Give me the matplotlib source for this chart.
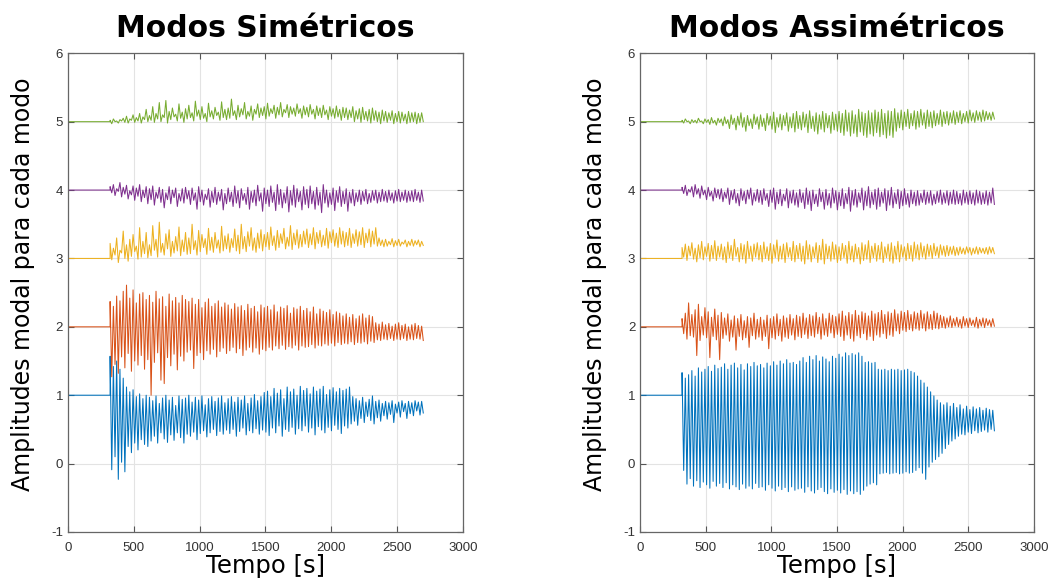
import numpy as np
import matplotlib
matplotlib.use("Agg")
import matplotlib.pyplot as plt

# modal amplitudes: upper peaks (hi) and lower troughs (lo) of each mode,
# one peak/trough pair every 25 s from t = 320 s to t = 2695 s
# (each row below covers 300 s)
t_start = 320
t_end = 2700
levels = [1, 2, 3, 4, 5]
colors = ["#0072BD", "#D95319", "#EDB120", "#7E2F8E", "#77AC30"]

# ---- symmetric modes ----
sim1_hi = [1.57, 1.42, 1.50, 1.38, 1.25, 1.12, 1.05, 1.08, 0.98, 1.02, 0.95, 1.00,
           0.97, 0.92, 0.99, 0.88, 0.96, 1.00, 0.93, 0.97, 0.85, 0.99, 0.94, 0.96,
           1.00, 0.90, 0.97, 0.93, 0.99, 0.86, 0.95, 0.98, 0.91, 0.96, 0.99, 0.89,
           0.95, 0.98, 0.90, 0.97, 0.93, 0.99, 0.88, 0.96, 1.01, 0.92, 0.98, 1.04,
           1.06, 0.98, 1.10, 1.03, 1.08, 0.95, 1.12, 1.05, 1.09, 1.00, 1.13, 1.07,
           1.10, 1.02, 1.12, 1.06, 1.09, 1.13, 1.01, 1.08, 1.11, 1.05, 1.10, 1.07,
           1.09, 1.12, 0.98, 0.95, 0.92, 0.97, 0.90, 0.94, 0.99, 0.91, 0.93, 0.88,
           0.91, 0.89, 0.92, 0.87, 0.90, 0.92, 0.88, 0.91, 0.89, 0.92, 0.90, 0.91]
sim1_lo = [-0.09, 0.10, -0.23, 0.02, -0.12, 0.25, 0.16, 0.30, 0.20, 0.35, 0.28, 0.25,
           0.33, 0.40, 0.30, 0.45, 0.36, 0.31, 0.42, 0.34, 0.45, 0.38, 0.30, 0.43,
           0.40, 0.46, 0.35, 0.44, 0.48, 0.39, 0.45, 0.50, 0.41, 0.47, 0.43, 0.49,
           0.44, 0.50, 0.40, 0.47, 0.52, 0.42, 0.48, 0.45, 0.51, 0.43, 0.49, 0.46,
           0.41, 0.52, 0.45, 0.55, 0.40, 0.50, 0.47, 0.53, 0.43, 0.51, 0.48, 0.55,
           0.46, 0.52, 0.42, 0.54, 0.49, 0.45, 0.53, 0.48, 0.56, 0.50, 0.44, 0.55,
           0.52, 0.58, 0.62, 0.56, 0.66, 0.60, 0.69, 0.63, 0.58, 0.67, 0.62, 0.70,
           0.65, 0.72, 0.60, 0.74, 0.68, 0.76, 0.66, 0.73, 0.70, 0.77, 0.71, 0.74]

sim2_hi = [2.37, 2.30, 2.45, 2.38, 2.52, 2.61, 2.42, 2.54, 2.35, 2.48, 2.50, 2.40,
           2.46, 2.36, 2.52, 2.41, 2.44, 2.30, 2.48, 2.38, 2.43, 2.35, 2.46, 2.40,
           2.37, 2.42, 2.33, 2.40, 2.28, 2.36, 2.41, 2.30, 2.34, 2.38, 2.29, 2.35,
           2.32, 2.26, 2.34, 2.29, 2.31, 2.24, 2.33, 2.27, 2.30, 2.22, 2.32, 2.28,
           2.30, 2.25, 2.32, 2.22, 2.29, 2.27, 2.31, 2.20, 2.28, 2.26, 2.30, 2.24,
           2.27, 2.22, 2.29, 2.19, 2.26, 2.23, 2.21, 2.25, 2.18, 2.22, 2.20, 2.16,
           2.19, 2.14, 2.18, 2.12, 2.16, 2.19, 2.13, 2.17, 2.15, 2.06, 2.04, 2.07,
           2.03, 2.05, 2.01, 2.04, 2.06, 2.02, 2.04, 2.00, 2.03, 2.05, 2.02, 2.01]
sim2_lo = [1.27, 1.45, 1.32, 1.56, 1.40, 1.61, 1.35, 1.50, 1.44, 1.58, 1.38, 1.52,
           1.00, 1.48, 1.62, 1.22, 1.17, 1.55, 1.43, 1.60, 1.37, 1.57, 1.50, 1.63,
           1.66, 1.39, 1.58, 1.62, 1.52, 1.65, 1.60, 1.67, 1.56, 1.64, 1.69, 1.61,
           1.65, 1.70, 1.62, 1.68, 1.58, 1.66, 1.70, 1.63, 1.69, 1.60, 1.67, 1.65,
           1.70, 1.66, 1.72, 1.68, 1.73, 1.67, 1.71, 1.69, 1.73, 1.66, 1.72, 1.70,
           1.71, 1.74, 1.69, 1.73, 1.72, 1.75, 1.73, 1.76, 1.72, 1.77, 1.74, 1.76,
           1.75, 1.78, 1.74, 1.77, 1.76, 1.78, 1.75, 1.79, 1.77, 1.81, 1.80, 1.82,
           1.81, 1.83, 1.80, 1.82, 1.81, 1.83, 1.80, 1.82, 1.81, 1.83, 1.82, 1.80]

sim3_hi = [3.22, 3.15, 3.30, 3.12, 3.40, 3.20, 3.28, 3.35, 3.18, 3.45, 3.25, 3.38,
           3.20, 3.48, 3.28, 3.53, 3.22, 3.36, 3.42, 3.25, 3.32, 3.46, 3.27, 3.38,
           3.30, 3.50, 3.26, 3.41, 3.35, 3.29, 3.44, 3.31, 3.38, 3.27, 3.47, 3.33,
           3.36, 3.29, 3.43, 3.34, 3.50, 3.32, 3.39, 3.45, 3.30, 3.37, 3.42, 3.35,
           3.38, 3.46, 3.33, 3.41, 3.36, 3.44, 3.31, 3.48, 3.37, 3.42, 3.35, 3.40,
           3.43, 3.36, 3.45, 3.38, 3.41, 3.34, 3.44, 3.39, 3.42, 3.37, 3.45, 3.40,
           3.38, 3.44, 3.36, 3.42, 3.39, 3.45, 3.37, 3.43, 3.40, 3.45, 3.30, 3.27,
           3.28, 3.25, 3.29, 3.26, 3.28, 3.24, 3.27, 3.25, 3.28, 3.26, 3.27, 3.25]
sim3_lo = [2.98, 3.05, 2.94, 3.08, 3.00, 2.96, 3.03, 3.10, 2.99, 3.02, 3.07, 3.01,
           3.04, 3.12, 3.02, 3.09, 3.05, 3.14, 3.03, 3.08, 3.11, 3.04, 3.10, 3.06,
           3.07, 3.13, 3.05, 3.10, 3.16, 3.06, 3.12, 3.09, 3.15, 3.08, 3.11, 3.14,
           3.09, 3.16, 3.11, 3.07, 3.14, 3.10, 3.18, 3.12, 3.09, 3.15, 3.11, 3.17,
           3.13, 3.19, 3.12, 3.16, 3.22, 3.14, 3.18, 3.13, 3.20, 3.15, 3.17, 3.21,
           3.16, 3.20, 3.14, 3.22, 3.17, 3.19, 3.15, 3.23, 3.18, 3.16, 3.21, 3.17,
           3.19, 3.16, 3.22, 3.18, 3.20, 3.16, 3.23, 3.17, 3.21, 3.18, 3.19, 3.17,
           3.18, 3.20, 3.17, 3.19, 3.18, 3.21, 3.17, 3.19, 3.18, 3.20, 3.17, 3.19]

sim4_hi = [4.05, 4.08, 4.02, 4.11, 4.04, 4.07, 3.99, 4.06, 4.03, 4.08, 4.00, 4.05,
           4.02, 4.06, 3.97, 4.04, 4.01, 3.96, 4.05, 4.00, 4.03, 3.95, 4.02, 4.04,
           3.99, 4.03, 3.96, 4.05, 4.00, 3.94, 4.02, 3.98, 4.04, 3.97, 4.01, 3.95,
           4.03, 3.97, 4.06, 3.99, 4.02, 3.95, 4.04, 3.98, 4.00, 4.07, 3.96, 4.03,
           4.00, 4.06, 3.97, 4.08, 4.01, 3.96, 4.05, 3.99, 4.07, 4.02, 3.98, 4.05,
           4.01, 4.06, 3.98, 4.04, 3.97, 4.08, 4.00, 3.96, 4.03, 3.99, 4.05, 3.98,
           4.02, 3.97, 4.01, 3.96, 4.00, 3.98, 4.01, 3.95, 3.99, 4.00, 3.97, 4.01,
           3.98, 4.00, 3.96, 3.99, 4.01, 3.97, 4.00, 3.98, 3.99, 4.01, 3.97, 4.00]
sim4_lo = [3.96, 3.92, 3.98, 3.90, 3.94, 3.87, 3.93, 3.85, 3.91, 3.83, 3.89, 3.80,
           3.86, 3.78, 3.88, 3.82, 3.74, 3.86, 3.80, 3.89, 3.76, 3.84, 3.81, 3.87,
           3.79, 3.85, 3.72, 3.83, 3.78, 3.86, 3.75, 3.82, 3.79, 3.84, 3.71, 3.80,
           3.83, 3.76, 3.81, 3.74, 3.85, 3.79, 3.72, 3.82, 3.77, 3.84, 3.69, 3.80,
           3.76, 3.82, 3.70, 3.79, 3.74, 3.81, 3.68, 3.78, 3.75, 3.83, 3.71, 3.79,
           3.74, 3.80, 3.72, 3.78, 3.67, 3.81, 3.75, 3.79, 3.70, 3.82, 3.76, 3.80,
           3.69, 3.81, 3.77, 3.83, 3.79, 3.84, 3.80, 3.82, 3.85, 3.81, 3.83, 3.84,
           3.82, 3.85, 3.81, 3.84, 3.83, 3.85, 3.82, 3.84, 3.83, 3.85, 3.82, 3.84]

sim5_hi = [5.02, 5.04, 5.01, 5.03, 5.05, 5.08, 5.04, 5.10, 5.06, 5.12, 5.07, 5.18,
           5.09, 5.22, 5.12, 5.28, 5.10, 5.31, 5.15, 5.20, 5.11, 5.26, 5.14, 5.19,
           5.24, 5.13, 5.30, 5.17, 5.22, 5.12, 5.27, 5.16, 5.21, 5.14, 5.29, 5.18,
           5.20, 5.33, 5.16, 5.24, 5.19, 5.28, 5.15, 5.23, 5.18, 5.26, 5.20, 5.22,
           5.27, 5.19, 5.24, 5.21, 5.28, 5.18, 5.25, 5.22, 5.20, 5.26, 5.19, 5.23,
           5.21, 5.25, 5.18, 5.23, 5.20, 5.24, 5.17, 5.22, 5.19, 5.23, 5.18, 5.21,
           5.20, 5.17, 5.22, 5.16, 5.19, 5.21, 5.15, 5.18, 5.20, 5.16, 5.14, 5.17,
           5.15, 5.13, 5.16, 5.12, 5.15, 5.14, 5.11, 5.15, 5.13, 5.14, 5.12, 5.13]
sim5_lo = [4.97, 5.00, 4.98, 5.01, 4.99, 4.98, 5.02, 4.99, 5.01, 4.98, 5.03, 5.00,
           5.02, 4.99, 5.04, 5.00, 5.06, 4.98, 5.03, 5.07, 5.01, 5.05, 4.99, 5.04,
           5.06, 5.01, 5.08, 5.03, 5.05, 5.00, 5.07, 5.04, 5.09, 5.02, 5.06, 5.03,
           5.05, 5.09, 5.03, 5.07, 5.10, 5.04, 5.08, 5.02, 5.11, 5.06, 5.09, 5.04,
           5.08, 5.12, 5.05, 5.10, 5.07, 5.13, 5.06, 5.11, 5.08, 5.12, 5.05, 5.10,
           5.07, 5.11, 5.04, 5.09, 5.06, 5.10, 5.03, 5.08, 5.05, 5.07, 5.02, 5.06,
           5.03, 5.06, 5.00, 5.04, 4.99, 5.03, 5.01, 4.98, 5.02, 5.00, 4.97, 5.01,
           4.99, 5.02, 4.97, 5.00, 4.98, 5.01, 4.97, 4.99, 5.00, 4.97, 4.99, 5.00]

# ---- antisymmetric modes ----
asim1_hi = [1.33, 1.25, 1.30, 1.36, 1.28, 1.40, 1.34, 1.38, 1.42, 1.35, 1.44, 1.39,
            1.41, 1.46, 1.38, 1.44, 1.47, 1.40, 1.45, 1.37, 1.46, 1.42, 1.48, 1.43,
            1.45, 1.40, 1.47, 1.43, 1.49, 1.44, 1.50, 1.46, 1.52, 1.47, 1.48, 1.45,
            1.50, 1.55, 1.48, 1.57, 1.52, 1.58, 1.50, 1.56, 1.53, 1.49, 1.57, 1.54,
            1.60, 1.56, 1.62, 1.58, 1.61, 1.59, 1.62, 1.57, 1.48, 1.49, 1.47, 1.48,
            1.38, 1.37, 1.38, 1.36, 1.38, 1.37, 1.38, 1.36, 1.37, 1.38, 1.35, 1.33,
            1.28, 1.22, 1.18, 1.12, 1.05, 0.99, 0.93, 0.89, 0.86, 0.89, 0.84, 0.88,
            0.82, 0.86, 0.80, 0.84, 0.79, 0.83, 0.80, 0.82, 0.78, 0.81, 0.79, 0.78]
asim1_lo = [-0.10, -0.30, -0.22, -0.33, -0.25, -0.35, -0.27, -0.31, -0.36, -0.26, -0.33, -0.29,
            -0.35, -0.28, -0.37, -0.31, -0.34, -0.38, -0.30, -0.36, -0.33, -0.37, -0.29, -0.35,
            -0.34, -0.39, -0.31, -0.36, -0.40, -0.33, -0.38, -0.35, -0.41, -0.34, -0.39, -0.37,
            -0.36, -0.42, -0.34, -0.40, -0.43, -0.38, -0.35, -0.41, -0.44, -0.37, -0.42, -0.39,
            -0.43, -0.38, -0.45, -0.40, -0.44, -0.41, -0.45, -0.39, -0.33, -0.30, -0.28, -0.31,
            -0.15, -0.14, -0.13, -0.15, -0.14, -0.13, -0.15, -0.14, -0.12, -0.14, -0.13, -0.10,
            -0.06, -0.14, -0.23, -0.05, 0.02, 0.06, 0.10, 0.15, 0.22, 0.28, 0.33, 0.36,
            0.40, 0.43, 0.42, 0.46, 0.44, 0.48, 0.45, 0.47, 0.49, 0.46, 0.50, 0.48]

asim2_hi = [2.12, 2.20, 2.35, 2.18, 2.25, 2.33, 2.15, 2.28, 2.22, 2.14, 2.26, 2.17,
            2.21, 2.13, 2.19, 2.10, 2.16, 2.12, 2.18, 2.09, 2.15, 2.13, 2.20, 2.11,
            2.14, 2.10, 2.17, 2.12, 2.15, 2.19, 2.11, 2.16, 2.13, 2.18, 2.12, 2.17,
            2.15, 2.20, 2.13, 2.18, 2.16, 2.21, 2.14, 2.19, 2.12, 2.20, 2.17, 2.15,
            2.19, 2.23, 2.16, 2.21, 2.18, 2.24, 2.17, 2.22, 2.20, 2.16, 2.23, 2.19,
            2.21, 2.24, 2.18, 2.22, 2.20, 2.25, 2.19, 2.23, 2.21, 2.24, 2.18, 2.22,
            2.20, 2.24, 2.19, 2.22, 2.18, 2.23, 2.20, 2.17, 2.15, 2.13, 2.16, 2.12,
            2.14, 2.11, 2.15, 2.12, 2.13, 2.10, 2.14, 2.11, 2.13, 2.12, 2.10, 2.12]
asim2_lo = [1.90, 1.82, 1.87, 1.85, 1.58, 1.80, 1.88, 1.84, 1.55, 1.86, 1.81, 1.52,
            1.83, 1.88, 1.79, 1.85, 1.66, 1.86, 1.81, 1.84, 1.70, 1.87, 1.82, 1.85,
            1.80, 1.86, 1.68, 1.84, 1.82, 1.87, 1.79, 1.85, 1.83, 1.88, 1.81, 1.86,
            1.84, 1.89, 1.83, 1.87, 1.85, 1.90, 1.82, 1.88, 1.86, 1.91, 1.84, 1.89,
            1.86, 1.80, 1.88, 1.83, 1.79, 1.87, 1.84, 1.90, 1.81, 1.86, 1.80, 1.88,
            1.85, 1.90, 1.83, 1.88, 1.86, 1.94, 1.90, 1.95, 1.93, 1.96, 1.94, 1.97,
            1.95, 1.98, 1.94, 1.97, 1.96, 1.98, 1.97, 1.99, 1.98, 2.00, 1.99, 2.01,
            2.00, 1.98, 2.01, 1.99, 2.02, 2.00, 1.98, 2.01, 1.99, 2.02, 2.00, 2.01]

asim3_hi = [3.16, 3.21, 3.18, 3.23, 3.15, 3.20, 3.25, 3.17, 3.22, 3.19, 3.26, 3.18,
            3.21, 3.17, 3.24, 3.19, 3.28, 3.16, 3.22, 3.20, 3.25, 3.18, 3.21, 3.23,
            3.19, 3.24, 3.17, 3.22, 3.20, 3.27, 3.18, 3.21, 3.23, 3.16, 3.25, 3.19,
            3.22, 3.18, 3.26, 3.20, 3.17, 3.23, 3.19, 3.28, 3.21, 3.18, 3.24, 3.20,
            3.17, 3.22, 3.19, 3.25, 3.18, 3.21, 3.16, 3.23, 3.20, 3.26, 3.18, 3.22,
            3.19, 3.24, 3.17, 3.21, 3.23, 3.18, 3.25, 3.20, 3.17, 3.22, 3.19, 3.24,
            3.20, 3.23, 3.18, 3.21, 3.19, 3.22, 3.17, 3.20, 3.18, 3.19, 3.17, 3.18,
            3.16, 3.17, 3.15, 3.17, 3.16, 3.15, 3.17, 3.16, 3.15, 3.16, 3.17, 3.16]
asim3_lo = [3.02, 2.97, 3.04, 2.99, 2.95, 3.01, 2.98, 3.03, 2.96, 3.00, 2.97, 3.02,
            2.98, 2.94, 3.01, 2.97, 3.03, 2.95, 2.99, 2.93, 3.00, 2.96, 3.02, 2.98,
            2.95, 3.00, 2.97, 2.93, 3.01, 2.96, 2.99, 2.94, 3.02, 2.97, 2.95, 3.00,
            2.96, 2.92, 2.99, 2.95, 3.01, 2.94, 2.98, 2.92, 3.00, 2.96, 2.99, 2.94,
            2.97, 3.01, 2.93, 2.98, 2.95, 3.00, 2.92, 2.97, 2.99, 2.94, 3.01, 2.96,
            2.99, 2.94, 3.01, 2.96, 2.93, 2.99, 2.95, 3.02, 2.97, 3.00, 2.96, 3.01,
            2.98, 3.02, 2.99, 3.03, 3.00, 3.04, 3.01, 3.05, 3.03, 3.04, 3.06, 3.04,
            3.05, 3.07, 3.06, 3.08, 3.05, 3.07, 3.06, 3.08, 3.07, 3.06, 3.08, 3.07]

asim4_hi = [4.04, 4.07, 4.01, 4.05, 4.08, 4.02, 4.06, 4.00, 4.04, 3.98, 4.03, 4.01,
            4.02, 3.97, 4.03, 3.99, 4.01, 3.95, 4.02, 3.98, 4.00, 4.03, 3.96, 4.01,
            3.99, 4.02, 3.95, 4.00, 4.03, 3.97, 4.01, 3.94, 4.02, 3.98, 4.00, 3.96,
            4.01, 3.96, 4.03, 3.98, 4.00, 3.94, 4.02, 3.97, 4.01, 3.95, 4.03, 3.99,
            3.97, 4.02, 3.95, 4.04, 3.99, 4.01, 3.96, 4.03, 3.98, 4.05, 3.97, 4.01,
            4.03, 3.97, 4.02, 3.99, 4.04, 3.96, 4.01, 3.98, 4.02, 3.95, 4.00, 3.97,
            3.99, 3.95, 4.00, 3.97, 3.99, 3.94, 3.98, 4.00, 3.96, 3.99, 3.97, 4.00,
            3.98, 3.95, 4.00, 3.97, 3.99, 3.96, 4.00, 3.98, 3.96, 3.99, 3.97, 4.03]
asim4_lo = [3.95, 3.92, 3.97, 3.90, 3.94, 3.88, 3.93, 3.86, 3.91, 3.84, 3.89, 3.87,
            3.83, 3.88, 3.79, 3.86, 3.81, 3.77, 3.85, 3.80, 3.87, 3.78, 3.84, 3.82,
            3.79, 3.85, 3.76, 3.82, 3.72, 3.80, 3.77, 3.84, 3.74, 3.81, 3.78, 3.75,
            3.82, 3.73, 3.79, 3.70, 3.80, 3.76, 3.83, 3.72, 3.78, 3.74, 3.81, 3.71,
            3.77, 3.73, 3.80, 3.69, 3.78, 3.75, 3.82, 3.71, 3.77, 3.74, 3.79, 3.72,
            3.76, 3.81, 3.70, 3.78, 3.74, 3.80, 3.73, 3.77, 3.79, 3.75, 3.80, 3.77,
            3.78, 3.82, 3.79, 3.81, 3.78, 3.80, 3.82, 3.79, 3.81, 3.78, 3.80, 3.79,
            3.80, 3.78, 3.81, 3.79, 3.80, 3.78, 3.81, 3.79, 3.80, 3.78, 3.81, 3.79]

asim5_hi = [5.02, 5.04, 5.01, 5.03, 5.02, 5.05, 5.01, 5.04, 5.03, 5.06, 5.02, 5.05,
            5.04, 5.07, 5.03, 5.10, 5.05, 5.08, 5.13, 5.06, 5.09, 5.04, 5.11, 5.07,
            5.10, 5.05, 5.12, 5.08, 5.14, 5.06, 5.11, 5.09, 5.13, 5.07, 5.12, 5.15,
            5.09, 5.14, 5.11, 5.16, 5.08, 5.13, 5.10, 5.15, 5.12, 5.09, 5.14, 5.11,
            5.15, 5.12, 5.17, 5.13, 5.16, 5.10, 5.18, 5.14, 5.12, 5.16, 5.13, 5.17,
            5.14, 5.18, 5.12, 5.16, 5.15, 5.19, 5.13, 5.17, 5.14, 5.18, 5.12, 5.16,
            5.15, 5.18, 5.13, 5.17, 5.14, 5.16, 5.12, 5.17, 5.14, 5.15, 5.13, 5.16,
            5.14, 5.16, 5.12, 5.15, 5.17, 5.13, 5.16, 5.14, 5.17, 5.15, 5.13, 5.14]
asim5_lo = [4.98, 5.00, 4.97, 4.99, 4.98, 5.00, 4.97, 4.99, 4.96, 4.98, 4.95, 4.99,
            4.94, 4.97, 4.90, 4.96, 4.88, 4.95, 4.92, 4.86, 4.94, 4.90, 4.96, 4.89,
            4.93, 4.87, 4.95, 4.89, 4.84, 4.92, 4.88, 4.94, 4.86, 4.91, 4.85, 4.90,
            4.88, 4.92, 4.84, 4.90, 4.86, 4.82, 4.89, 4.85, 4.91, 4.83, 4.88, 4.86,
            4.84, 4.80, 4.86, 4.79, 4.83, 4.78, 4.85, 4.80, 4.77, 4.82, 4.79, 4.84,
            4.78, 4.81, 4.76, 4.80, 4.77, 4.86, 4.91, 4.88, 4.93, 4.90, 4.94, 4.89,
            4.92, 4.95, 4.90, 4.93, 4.91, 4.94, 4.96, 4.93, 4.97, 4.95, 4.98, 4.96,
            4.99, 4.97, 5.00, 4.98, 5.01, 4.99, 5.02, 5.00, 5.01, 5.03, 5.02, 5.04]

sim_modes = [(sim1_hi, sim1_lo), (sim2_hi, sim2_lo), (sim3_hi, sim3_lo),
             (sim4_hi, sim4_lo), (sim5_hi, sim5_lo)]
asim_modes = [(asim1_hi, asim1_lo), (asim2_hi, asim2_lo), (asim3_hi, asim3_lo),
              (asim4_hi, asim4_lo), (asim5_hi, asim5_lo)]


def mode_trace(hi, lo, level):
    """flat at the offset level until t_start, then alternate peak/trough"""
    y = np.empty(2 * len(hi))
    y[0::2] = hi
    y[1::2] = lo
    t = np.linspace(t_start, t_end, len(y))
    return np.r_[0, t_start, t], np.r_[level, level, y]


def draw_panel(ax, modes, title):
    for (hi, lo), level, c in zip(modes, levels, colors):
        t, y = mode_trace(hi, lo, level)
        ax.plot(t, y, color=c, lw=0.75)
    ax.set_xlim(0, 3000)
    ax.set_ylim(-1, 6)
    ax.set_xticks([0, 500, 1000, 1500, 2000, 2500, 3000])
    ax.set_yticks([-1, 0, 1, 2, 3, 4, 5, 6])
    ax.grid(True, color="#e3e3e3", lw=0.8)
    ax.set_axisbelow(True)
    ax.tick_params(direction="in", top=True, right=True, length=4,
                   colors="#555555", labelcolor="#333333", labelsize=9.5)
    ax.tick_params(axis="x", pad=7)
    for s in ax.spines.values():
        s.set_color("#666666")
        s.set_linewidth(0.9)
    ax.set_title(title, fontsize=21.5, fontweight="bold", family="DejaVu Sans", pad=12)
    ax.set_xlabel("Tempo [s]", fontsize=17.5, family="DejaVu Sans", labelpad=0.5)
    ax.set_ylabel("Amplitudes modal para cada modo", fontsize=17,
                  family="DejaVu Sans")
    ax.yaxis.set_label_coords(-0.083, 0.518)


plt.rcParams["font.family"] = ["Liberation Sans", "DejaVu Sans"]
plt.rcParams["axes.unicode_minus"] = False
fig = plt.figure(figsize=(10.51, 5.78), dpi=100)
ax1 = fig.add_axes([0.0647, 0.0796, 0.3756, 0.8282])
ax2 = fig.add_axes([0.609, 0.0796, 0.3746, 0.8282])
draw_panel(ax1, sim_modes, "Modos Simétricos")
draw_panel(ax2, asim_modes, "Modos Assimétricos")
fig.savefig("out.png", dpi=100)
